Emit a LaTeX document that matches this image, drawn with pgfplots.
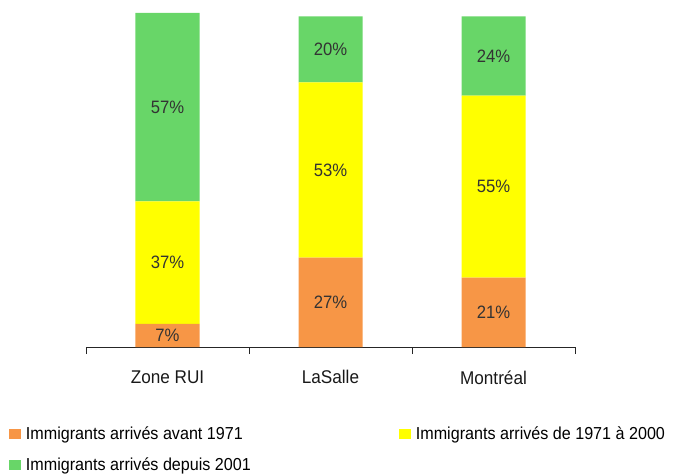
\documentclass[border=0pt]{standalone}
\usepackage{fontspec}
\setmainfont{Liberation Sans}[FakeStretch=0.93]
\usepackage{pgfplots}
\usepackage{pgfplotstable}
\pgfplotsset{compat=1.18}

\definecolor{cAvant}{RGB}{247,150,70}
\definecolor{cMid}{RGB}{255,255,0}
\definecolor{cDepuis}{RGB}{104,214,104}

% shares of immigrants (%), by arrival period
\pgfplotstableread{
x avant mid depuis
0 7 37 57
1 27 53 20
2 21 55 24
}\immdata

\begin{document}
\begin{tikzpicture}
\begin{axis}[
  name=ax,
  scale only axis, width=489bp, height=334bp,
  ybar stacked, bar width=64bp,
  xmin=-0.5, xmax=2.5, ymin=0, ymax=101,
  axis x line=bottom, axis y line=none,
  x axis line style={-, draw=black!85, line width=0.9pt},
  xtick={0,1,2}, xticklabels={Zone RUI,LaSalle,Montréal},
  major tick length=0pt,
  extra x ticks={-0.5,0.5,1.5,2.5}, extra x tick labels={},
  extra x tick style={major tick length=7bp, tick align=outside,
    tick style={draw=black!85, line width=0.9pt}},
  xticklabel style={font=\fontsize{18.5}{20}\selectfont, text=black!90, yshift=-20bp},
  /pgf/number format/assume math mode=true,
  nodes near coords={\pgfmathprintnumber{\pgfplotspointmeta}\%},
  point meta=explicit,
  every node near coord/.append style={anchor=center,
    font=\fontsize{18}{20}\selectfont, text=black!80},
  legend style={at={(axis description cs:-0.164,-0.226)}, anchor=north west,
    draw=none, fill=none, font=\fontsize{17.4}{19}\selectfont,
    row sep=13bp, /tikz/every even column/.append style={column sep=146bp}},
  legend columns=2, legend cell align=left,
  legend image code/.code={\fill[#1] (0bp,-5bp) rectangle (12bp,5bp); \path (15bp,0bp);},
]
\addplot[fill=cAvant, draw=none] table[x=x, y=avant, meta=avant] {\immdata};
\addplot[fill=cMid, draw=none] table[x=x, y=mid, meta=mid] {\immdata};
\addplot[fill=cDepuis, draw=none] table[x=x, y=depuis, meta=depuis] {\immdata};
\legend{Immigrants arrivés avant 1971, Immigrants arrivés de 1971 à 2000, Immigrants arrivés depuis 2001}
\end{axis}
\pgfresetboundingbox
\path[use as bounding box] ([shift={(-86bp,-127bp)}]ax.south west) rectangle ([shift={(100bp,13bp)}]ax.north east);
\end{tikzpicture}
\end{document}
